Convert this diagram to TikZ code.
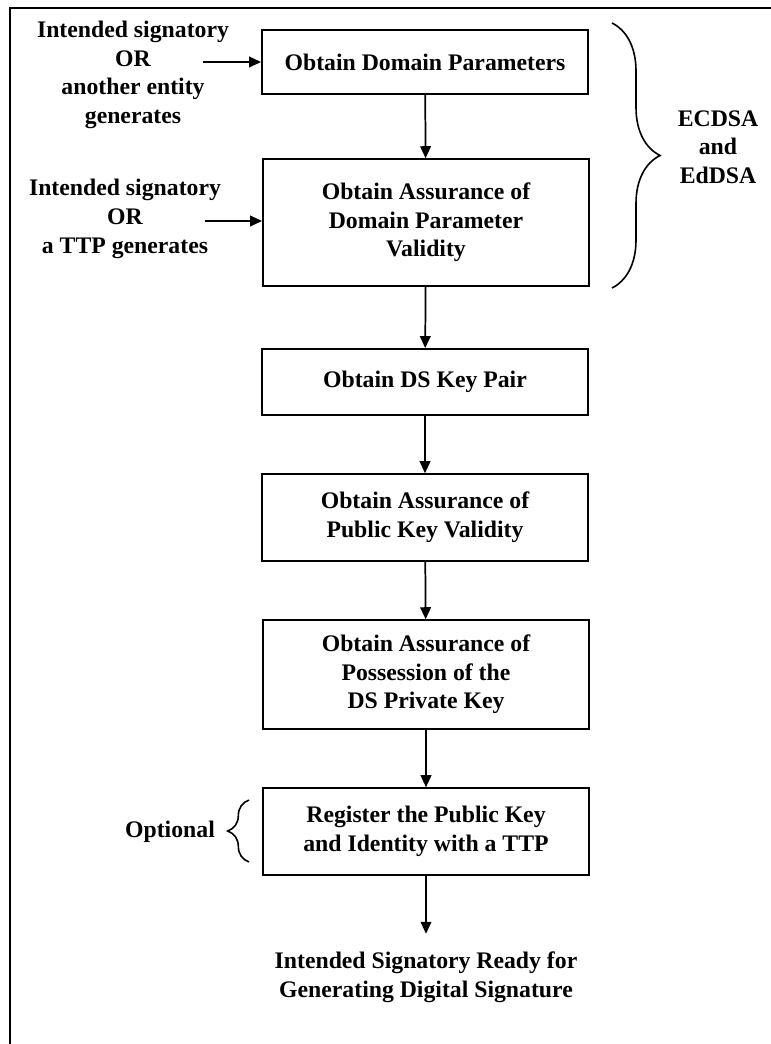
\documentclass[tikz,border=0pt]{standalone}
\usepackage{fontspec}
\setmainfont{Liberation Serif}
\usetikzlibrary{arrows.meta, decorations.pathreplacing}

\tikzset{
  stepbox/.style={draw, line width=1.4pt, minimum width=244.5pt, align=center, inner sep=0pt, font=\fontsize{17.8}{21.5}\selectfont\bfseries},
  lbl/.style={align=center, inner sep=0pt, font=\fontsize{17.8}{21.5}\selectfont\bfseries},
  flow/.style={line width=1.3pt, -{Triangle[length=9pt, width=8pt]}},
  curly/.style={decorate, line width=1.2pt}
}

\begin{document}
\begin{tikzpicture}[x=0.75pt, y=-0.75pt]
  \useasboundingbox (0,0) rectangle (770,1044);
  \draw[line width=2pt] (10,1060) -- (10,8) -- (790,8);

  \node[stepbox, minimum height=48pt] (params) at (425,62) {Obtain Domain Parameters};
  \node[stepbox, minimum height=95pt] (validity) at (426,222.5) {Obtain Assurance of\\Domain Parameter\\Validity};
  \node[stepbox, minimum height=49.5pt] (keypair) at (425,382) {Obtain DS Key Pair};
  \node[stepbox, minimum height=65pt] (pubkey) at (425,517.5) {Obtain Assurance of\\Public Key Validity};
  \node[stepbox, minimum height=81.5pt] (possess) at (426,674.5) {Obtain Assurance of\\Possession of the\\DS Private Key};
  \node[stepbox, minimum height=65pt] (register) at (426,831.5) {Register the Public Key\\and Identity with a TTP};
  \node[lbl] (ready) at (426,977) {Intended Signatory Ready for\\Generating Digital Signature};

  \node[lbl] (gen1) at (133,75) {Intended signatory\\OR\\another entity\\generates};
  \node[lbl] (gen2) at (125,219) {Intended signatory\\OR\\a TTP generates};
  \node[lbl] (algs) at (718,147) {ECDSA\\and\\EdDSA};
  \node[lbl] (optional) at (170,832) {Optional};

  \coordinate (in1) at (203,62);
  \coordinate (in2) at (205,221);
  \coordinate (ecdsatop) at (612,23);
  \coordinate (ecdsabot) at (612,288);
  \coordinate (opttop) at (249,800);
  \coordinate (optbot) at (249,862);

  \draw[flow] (in1) -- (params.west);
  \draw[flow] (in2) -- (in2 -| validity.west);
  \draw[flow] (params) -- (validity);
  \draw[flow] (validity) -- (keypair);
  \draw[flow] (keypair) -- (pubkey);
  \draw[flow] (pubkey) -- (possess);
  \draw[flow] (possess) -- (register);
  \draw[flow] (register.south) -- ++(0,58) coordinate (readytop);

  \draw[curly, decoration={brace, amplitude=36pt}] (ecdsatop) -- (ecdsabot);
  \draw[curly, decoration={brace, amplitude=16pt}] (optbot) -- (opttop);
\end{tikzpicture}
\end{document}
